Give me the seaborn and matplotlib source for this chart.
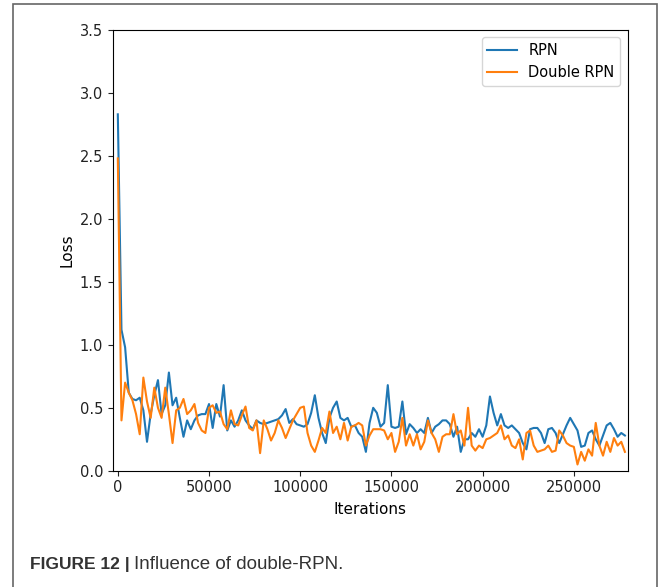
import numpy as np
import pandas as pd
import seaborn as sns
import matplotlib.pyplot as plt
from matplotlib.patches import Rectangle

# Loss curves, one value every 2000 iterations
iterations = np.arange(0, 280000, 2000)

rpn_loss = [
    2.83, 1.12, 0.98, 0.62, 0.57, 0.56, 0.58, 0.48, 0.23, 0.45,
    0.60, 0.72, 0.45, 0.52, 0.78, 0.52, 0.58, 0.42, 0.27, 0.40,
    0.33, 0.40, 0.44, 0.45, 0.45, 0.53, 0.34, 0.53, 0.43, 0.68,
    0.32, 0.40, 0.35, 0.40, 0.48, 0.40, 0.36, 0.33, 0.40, 0.38,
    0.37, 0.38, 0.39, 0.40, 0.41, 0.44, 0.49, 0.38, 0.41, 0.37,
    0.36, 0.35, 0.37, 0.46, 0.60, 0.42, 0.30, 0.22, 0.42, 0.50,
    0.55, 0.42, 0.40, 0.42, 0.35, 0.36, 0.30, 0.27, 0.15, 0.38,
    0.50, 0.46, 0.35, 0.38, 0.68, 0.35, 0.34, 0.35, 0.55, 0.29,
    0.37, 0.34, 0.30, 0.33, 0.30, 0.42, 0.30, 0.35, 0.37, 0.40,
    0.40, 0.37, 0.27, 0.35, 0.15, 0.25, 0.25, 0.30, 0.27, 0.33,
    0.27, 0.36, 0.59, 0.46, 0.36, 0.45, 0.36, 0.34, 0.36, 0.33,
    0.30, 0.22, 0.17, 0.33, 0.34, 0.34, 0.30, 0.22, 0.33, 0.34,
    0.30, 0.22, 0.29, 0.36, 0.42, 0.37, 0.32, 0.19, 0.20, 0.30,
    0.32, 0.25, 0.20, 0.28, 0.36, 0.38, 0.33, 0.27, 0.30, 0.28,
]

double_rpn_loss = [
    2.48, 0.40, 0.70, 0.62, 0.56, 0.45, 0.29, 0.74, 0.55, 0.42,
    0.66, 0.50, 0.42, 0.66, 0.45, 0.22, 0.48, 0.50, 0.57, 0.45,
    0.48, 0.53, 0.38, 0.32, 0.30, 0.50, 0.52, 0.46, 0.47, 0.37,
    0.33, 0.48, 0.37, 0.36, 0.44, 0.51, 0.34, 0.32, 0.40, 0.14,
    0.40, 0.33, 0.24, 0.30, 0.40, 0.34, 0.26, 0.33, 0.40, 0.45,
    0.50, 0.51, 0.30, 0.20, 0.15, 0.24, 0.34, 0.30, 0.47, 0.30,
    0.35, 0.25, 0.38, 0.24, 0.35, 0.36, 0.38, 0.36, 0.20, 0.28,
    0.33, 0.33, 0.33, 0.32, 0.25, 0.30, 0.15, 0.23, 0.42, 0.20,
    0.29, 0.20, 0.29, 0.17, 0.23, 0.40, 0.30, 0.25, 0.15, 0.27,
    0.29, 0.29, 0.45, 0.29, 0.32, 0.20, 0.50, 0.20, 0.16, 0.20,
    0.18, 0.25, 0.26, 0.28, 0.30, 0.36, 0.25, 0.28, 0.20, 0.18,
    0.25, 0.09, 0.30, 0.32, 0.20, 0.15, 0.16, 0.17, 0.20, 0.15,
    0.16, 0.32, 0.28, 0.22, 0.20, 0.19, 0.05, 0.15, 0.08, 0.17,
    0.12, 0.38, 0.20, 0.12, 0.23, 0.15, 0.26, 0.20, 0.23, 0.15,
]

series_names = ["RPN", "Double RPN"]
colors = ["#1f77b4", "#ff7f0e"]

df = pd.DataFrame({
    "Iterations": np.concatenate([iterations, iterations]),
    "Loss": rpn_loss + double_rpn_loss,
    "model": [series_names[0]] * len(iterations) + [series_names[1]] * len(iterations),
})

fig = plt.figure(figsize=(6.72, 5.87), dpi=100)
ax = fig.add_axes([0.168, 0.198, 0.766, 0.751])

sns.lineplot(data=df, x="Iterations", y="Loss", hue="model",
             palette=colors, linewidth=1.5, ax=ax)

ax.set_xlim(-2700, 279500)
ax.set_ylim(0, 3.5)
ax.set_xticks([0, 50000, 100000, 150000, 200000, 250000])
ax.set_yticks(np.arange(0, 3.51, 0.5))
ax.tick_params(labelsize=10.5, colors="#222222")
ax.set_xlabel("Iterations", fontsize=11, labelpad=5)
ax.set_ylabel("Loss", fontsize=11)

leg = ax.legend(loc="upper right", fontsize=10.5)
leg.set_title(None)

# outer frame around the figure panel
fig.patches.append(Rectangle((0.020, -0.01), 0.958, 1.003, transform=fig.transFigure,
                             fill=False, edgecolor="#666666", linewidth=1.2))

fig.text(0.045, 0.030, "FIGURE 12 |", fontsize=12.5, fontweight="bold",
         family="Liberation Sans", color="#333333")
fig.text(0.199, 0.030, "Influence of double-RPN.", fontsize=13.5,
         family="Liberation Sans", color="#333333")

plt.savefig("out.png", dpi=100)
